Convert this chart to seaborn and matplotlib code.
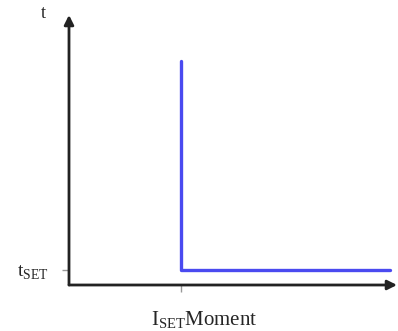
import numpy as np
import pandas as pd
import matplotlib
matplotlib.use("Agg")
import matplotlib.pyplot as plt
import seaborn as sns

# step curve: vertical drop at I_SET, then flat at t_SET
curve_x = [3.4, 3.4, 9.8]
curve_y = [8.3, 0.55, 0.55]
xtick_pos = [3.4]
ytick_pos = [0.55]
ytick_labels = [r"$\mathrm{t}_{\mathrm{SET}}$"]
x_label = r"$\mathrm{I}_{\mathrm{SET}}$Moment"
y_label = "t"

sns.set_theme(style="white")
plt.rcParams["font.family"] = ["Liberation Serif", "DejaVu Serif"]
plt.rcParams["mathtext.fontset"] = "custom"
plt.rcParams["mathtext.rm"] = "Liberation Serif"

W, H = 398, 331
fig = plt.figure(figsize=(W / 100, H / 100), dpi=100)
ax = fig.add_axes([69 / W, 46 / H, (397 - 69) / W, 270 / H])

df = pd.DataFrame({"x": curve_x, "y": curve_y})
sns.lineplot(data=df, x="x", y="y", sort=False, estimator=None,
             color="#4a4af0", lw=2.4, ax=ax)

ax.set_xlim(0, 10)
ax.set_ylim(0, 10)
for s in ax.spines.values():
    s.set_visible(False)

# axes with arrow heads
arrow = dict(arrowstyle="-|>", lw=2.0, color="#222222", mutation_scale=14,
             shrinkA=0, shrinkB=0)
ax.annotate("", xy=(0, 1), xytext=(0, 0), xycoords="axes fraction", arrowprops=arrow)
ax.annotate("", xy=(1, 0), xytext=(0, 0), xycoords="axes fraction", arrowprops=arrow)

ax.set_xticks(xtick_pos)
ax.set_xticklabels([""])
ax.set_yticks(ytick_pos)
ax.set_yticklabels(ytick_labels, fontsize=14)
ax.tick_params(axis="both", direction="out", length=5, width=1, color="#999999",
               bottom=True, left=True)
ax.tick_params(axis="y", pad=10)
ax.set_xlabel("")
ax.set_ylabel("")

fig.text(204 / W, 1 - 325 / H, x_label, ha="center", va="baseline", fontsize=15)
fig.text(43 / W, 1 - 14 / H, y_label, ha="center", va="center", fontsize=13)

fig.savefig("out.png", dpi=100, facecolor="white")
